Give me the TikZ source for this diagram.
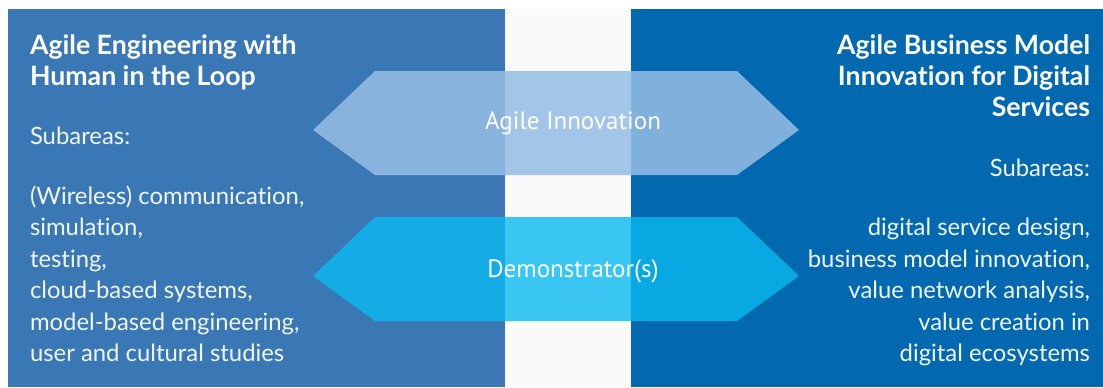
\documentclass[tikz,border=0pt]{standalone}
\usepackage{fontspec}
\setmainfont{Lato}[Ligatures=NoCommon]
\newfontfamily\bannerfont{PT Sans}
\begin{document}
\begin{tikzpicture}[x=.75pt,y=-.75pt,
  title/.style={inner sep=0pt,outer sep=0pt,text=white,font=\bfseries\fontsize{20}{24}\selectfont},
  body/.style={inner sep=0pt,outer sep=0pt,text={rgb,255:red,240;green,245;blue,250},font=\fontsize{17.9}{21}\selectfont},
  banner/.style={inner sep=0pt,outer sep=0pt,text=white,font=\bannerfont\fontsize{18.8}{22}\selectfont}]
\path[use as bounding box,fill=white] (0,0) rectangle (1103,387);
\path[fill={rgb,255:red,250;green,250;blue,250}] (505,9) rectangle (631,387);
\path[fill={rgb,255:red,57;green,120;blue,180}] (8,9) rectangle (505,387);
\path[fill={rgb,255:red,2;green,104;blue,176}] (631,9) rectangle (1103,387);
% two-headed banners across the gap
\path[fill={rgb,255:red,149;green,189;blue,228},fill opacity=.86] (313,130) -- (375,71) -- (737,71) -- (799,130) -- (737,175) -- (375,175) -- cycle;
\path[fill={rgb,255:red,10;green,185;blue,240},fill opacity=.8] (313,276) -- (375,217) -- (737,217) -- (799,276) -- (737,321) -- (375,321) -- cycle;
\node[banner,anchor=base] (innov) at (573,129) {Agile Innovation};
\node[banner,anchor=base] (demo) at (573,277) {Demonstrator(s)};
% engineering side
\node[title,anchor=base west] (engT1) at (30,54) {Agile Engineering with};
\node[title,anchor=base west] (engT2) at (30,85) {Human in the Loop};
\node[body,anchor=base west] (engSub) at (30,144) {Subareas:};
\node[body,anchor=base west] (eng1) at (30,204) {(Wireless) communication,};
\node[body,anchor=base west] (eng2) at (30,235.5) {simulation,};
\node[body,anchor=base west] (eng3) at (30,267) {testing,};
\node[body,anchor=base west] (eng4) at (30,298.5) {cloud-based systems,};
\node[body,anchor=base west] (eng5) at (30,330) {model-based engineering,};
\node[body,anchor=base west] (eng6) at (30,361.5) {user and cultural studies};
% business side
\node[title,anchor=base east] (busT1) at (1090,54) {Agile Business Model};
\node[title,anchor=base east] (busT2) at (1090,85) {Innovation for Digital};
\node[title,anchor=base east] (busT3) at (1090,116) {Services};
\node[body,anchor=base east] (busSub) at (1090,176) {Subareas:};
\node[body,anchor=base east] (bus1) at (1090,235.5) {digital service design,};
\node[body,anchor=base east] (bus2) at (1090,267) {business model innovation,};
\node[body,anchor=base east] (bus3) at (1090,298.5) {value network analysis,};
\node[body,anchor=base east] (bus4) at (1090,330) {value creation in};
\node[body,anchor=base east] (bus5) at (1090,361.5) {digital ecosystems};
\end{tikzpicture}
\end{document}
